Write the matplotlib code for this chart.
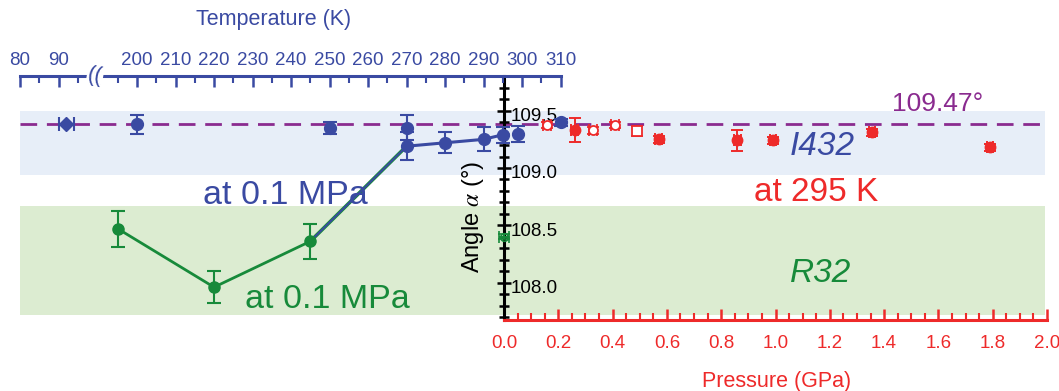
import numpy as np
import matplotlib.pyplot as plt
from matplotlib.ticker import FixedLocator, MultipleLocator
from matplotlib.transforms import ScaledTranslation, blended_transform_factory

plt.rcParams['font.family'] = ['Liberation Sans', 'DejaVu Sans']
plt.rcParams['mathtext.fontset'] = 'stix'

BLUE = '#3A4AA2'
GREEN = '#178A3A'
RED = '#EE2A2A'
PURPLE = '#8A2B8F'
BAND_BLUE = '#E7EEF8'
BAND_GREEN = '#DCECD1'

# ---- values ----
# 0.1 MPa temperature scan, I432 points joined by the line
temp_i432 = [270, 280, 290, 295]
angle_i432 = [109.19, 109.22, 109.25, 109.29]
err_i432 = [0.12, 0.09, 0.105, 0.07]

# 0.1 MPa, isolated I432 points
temp_i432_pts = [200, 250, 270, 299, 310]
angle_i432_pts = [109.38, 109.35, 109.35, 109.30, 109.40]
err_i432_pts = [0.08, 0.055, 0.11, 0.07, 0.03]

# low temperature point (diamond, horizontal error)
temp_low = [92]
angle_low = [109.38]
terr_low = [2.0]

# 0.1 MPa, R32 branch
temp_r32 = [195, 220, 245]
angle_r32 = [108.47, 107.96, 108.36]
err_r32 = [0.155, 0.14, 0.155]

# 295 K pressure scan
p_filled = [0.26, 0.57, 0.86, 0.99, 1.355, 1.79]
angle_filled = [109.33, 109.25, 109.24, 109.24, 109.31, 109.18]
err_filled = [0.105, 0.03, 0.09, 0.03, 0.03, 0.03]

p_open = [0.158, 0.328, 0.409]
angle_open = [109.375, 109.33, 109.375]
err_open = [0.03, 0.03, 0.03]

p_open_sq = [0.49]
angle_open_sq = [109.32]
err_open_sq = [0.045]

p_r32 = [0.0]
angle_p_r32 = [108.40]

I432_RANGE = (108.935, 109.50)
R32_RANGE = (107.713, 108.665)
IDEAL_DRAWN = 109.38   # where the 109.47 deg guide sits in the figure

top_major_T = [80, 90, 200, 210, 220, 230, 240, 250, 260, 270, 280, 290, 300, 310]
top_minor_T = [85, 95, 195, 205, 215, 225, 235, 245, 255, 265, 275, 285, 295, 305]

# ---- layout (pixel geometry of the 1059 x 391 figure) ----
W_PX, H_PX = 1059, 391
PX_L, PX_R, PX_TOP, PX_BOT = 18, 1050, 76, 320
P0_PX, P_SCALE = 504, 271.5          # px of 0 GPa, px per GPa
T80_PX, T_SCALE = 20, 3.85           # px of 80 K, px per K
BAND_L, BAND_R = 20, 1045


def t_to_u(t):
    # broken temperature axis: drop the 100-190 K gap
    t = np.asarray(t, float)
    return np.where(t < 150, t, t - 89.6)


def px_to_p(px):
    return (px - P0_PX) / P_SCALE


def px_to_u(px):
    return 80 + (px - T80_PX) / T_SCALE


def fx(px):
    return px / W_PX


def fy(py):
    return 1 - py / H_PX


fig = plt.figure(figsize=(W_PX / 100, H_PX / 100), dpi=100)
ax = fig.add_axes([fx(PX_L), fy(PX_BOT), (PX_R - PX_L) / W_PX, (PX_BOT - PX_TOP) / H_PX])
ax.set_xlim(px_to_p(PX_L), px_to_p(PX_R))
ax.set_ylim(109.5 - (PX_BOT - 110.7) / 114.6, 109.5 + (110.7 - PX_TOP) / 114.6)
ax.patch.set_visible(False)

# phase bands and guide line
xb = [px_to_p(BAND_L), px_to_p(BAND_R)]
ax.fill_between(xb, *I432_RANGE, color=BAND_BLUE, lw=0, zorder=0)
ax.fill_between(xb, *R32_RANGE, color=BAND_GREEN, lw=0, zorder=0)
ax.plot(xb, [IDEAL_DRAWN] * 2, color=PURPLE, lw=2.0, dashes=(6, 3.5), zorder=1)

# pressure data
ekw = dict(elinewidth=1.4, capthick=1.4, capsize=4, zorder=4)
ax.errorbar(p_filled, angle_filled, yerr=err_filled, xerr=0.012, fmt='o',
            color=RED, ms=7.5, **ekw)
ax.errorbar(p_open, angle_open, yerr=err_open, xerr=0.015, fmt='o', mfc='white',
            mec=RED, mew=1.3, color=RED, ms=6.5, **ekw)
ax.errorbar(p_open_sq, angle_open_sq, yerr=err_open_sq, xerr=0.015, fmt='s', mfc='white',
            mec=RED, mew=1.3, color=RED, ms=6.5, **ekw)
ax.errorbar(p_r32, angle_p_r32, yerr=0.02, xerr=0.018, fmt='o', mfc='none',
            mec=GREEN, mew=1.2, color=GREEN, ms=5.5, **ekw)

# spines / ticks of the main axes
for s in ('left', 'top'):
    ax.spines[s].set_visible(False)
ax.spines['right'].set_position(('data', 0))
ax.spines['right'].set_linewidth(2.2)
ax.spines['right'].set_color('black')
ax.spines['bottom'].set_bounds(0, 2)
ax.spines['bottom'].set_color(RED)
ax.spines['bottom'].set_linewidth(2.2)

ax.yaxis.set_ticks_position('right')
ax.yaxis.set_major_locator(MultipleLocator(0.5))
ax.yaxis.set_minor_locator(MultipleLocator(0.1))
ax.yaxis.set_major_formatter(lambda v, pos: f'{v:.1f}')
ax.tick_params(axis='y', which='major', direction='inout', length=10, width=1.8,
               colors='black', labelsize=13.5, pad=0)
ax.tick_params(axis='y', which='minor', direction='inout', length=7, width=1.8, colors='black')

ax.set_xticks(np.arange(0, 2.01, 0.2))
ax.xaxis.set_minor_locator(FixedLocator(np.arange(0, 2.01, 0.05)))
ax.xaxis.set_major_formatter(lambda v, pos: f'{v:.1f}')
ax.tick_params(axis='x', which='major', direction='in', length=8, width=1.8,
               colors=RED, labelsize=13.5, pad=11)
ax.tick_params(axis='x', which='minor', direction='in', length=5, width=1.5, colors=RED)

shift = ScaledTranslation(0, -0.04, fig.dpi_scale_trans)
for lbl in ax.get_yticklabels():
    lbl.set_transform(lbl.get_transform() + shift)

# temperature axes on top
ax_t = ax.twiny()
ax_t.set_xlim(px_to_u(PX_L), px_to_u(PX_R))
for s in ('left', 'right', 'bottom'):
    ax_t.spines[s].set_visible(False)
ax_t.spines['top'].set_bounds(80, float(t_to_u(310)))
ax_t.spines['top'].set_color(BLUE)
ax_t.spines['top'].set_linewidth(2.2)
ax_t.xaxis.set_major_locator(FixedLocator(t_to_u(top_major_T)))
ax_t.xaxis.set_minor_locator(FixedLocator(t_to_u(top_minor_T)))
ax_t.set_xticklabels([str(t) for t in top_major_T])
ax_t.tick_params(axis='x', which='major', direction='in', length=8, width=1.8,
                 colors=BLUE, labelsize=13.5, pad=5)
ax_t.tick_params(axis='x', which='minor', direction='in', length=5, width=1.5, colors=BLUE)

# axis break symbol
tb = blended_transform_factory(ax_t.transData, ax_t.transAxes)
ax_t.text(px_to_u(95), 1.0, '((', transform=tb, ha='center', va='center', color=BLUE,
          fontsize=16, rotation=-10, clip_on=False,
          bbox=dict(fc='white', ec='none', pad=0.5), zorder=6)

# temperature data
tkw = dict(elinewidth=1.5, capthick=1.5, capsize=5, zorder=5)
bridge_t = [temp_r32[-1], temp_i432[0]]
bridge_a = [angle_r32[-1], angle_i432[0]]
ax_t.plot(t_to_u(bridge_t), bridge_a, color=GREEN, lw=2.6, zorder=3)
ax_t.plot(t_to_u(bridge_t), bridge_a, color=BLUE, lw=1.4, zorder=3)
ax_t.plot(t_to_u(temp_i432), angle_i432, color=BLUE, lw=2.2, zorder=3)
ax_t.plot(t_to_u(temp_r32), angle_r32, color=GREEN, lw=2.0, zorder=3)
ax_t.errorbar(t_to_u(temp_i432), angle_i432, yerr=err_i432, fmt='o', color=BLUE, ms=8.5, **tkw)
ax_t.errorbar(t_to_u(temp_i432_pts), angle_i432_pts, yerr=err_i432_pts, fmt='o',
              color=BLUE, ms=8.5, **tkw)
ax_t.errorbar(t_to_u(temp_low), angle_low, xerr=terr_low, fmt='D', color=BLUE, ms=7, **tkw)
ax_t.errorbar(t_to_u(temp_r32), angle_r32, yerr=err_r32, fmt='o', color=GREEN, ms=8, **tkw)

# labels and annotations
ax.text(px_to_p(473), 108.57, r'Angle $\alpha$ (°)', rotation=90, ha='center', va='center',
        fontsize=17, color='black')
fig.text(fx(274), fy(19), 'Temperature (K)', ha='center', va='center', color=BLUE, fontsize=15.5)
fig.text(fx(777), fy(382), 'Pressure (GPa)', ha='center', va='center', color=RED, fontsize=15.5)
fig.text(fx(938), fy(104), '109.47°', ha='center', va='center', color=PURPLE, fontsize=19)
fig.text(fx(285), fy(196), 'at 0.1 MPa', ha='center', va='center', color=BLUE, fontsize=24.5)
fig.text(fx(327), fy(299), 'at 0.1 MPa', ha='center', va='center', color=GREEN, fontsize=24.5)
fig.text(fx(816), fy(193), 'at 295 K', ha='center', va='center', color=RED, fontsize=24)
fig.text(fx(822), fy(147), 'I432', ha='center', va='center', color=BLUE, fontsize=24,
         style='italic')
fig.text(fx(821), fy(273), 'R32', ha='center', va='center', color=GREEN, fontsize=24,
         style='italic')

fig.savefig('out.png', dpi=100)
